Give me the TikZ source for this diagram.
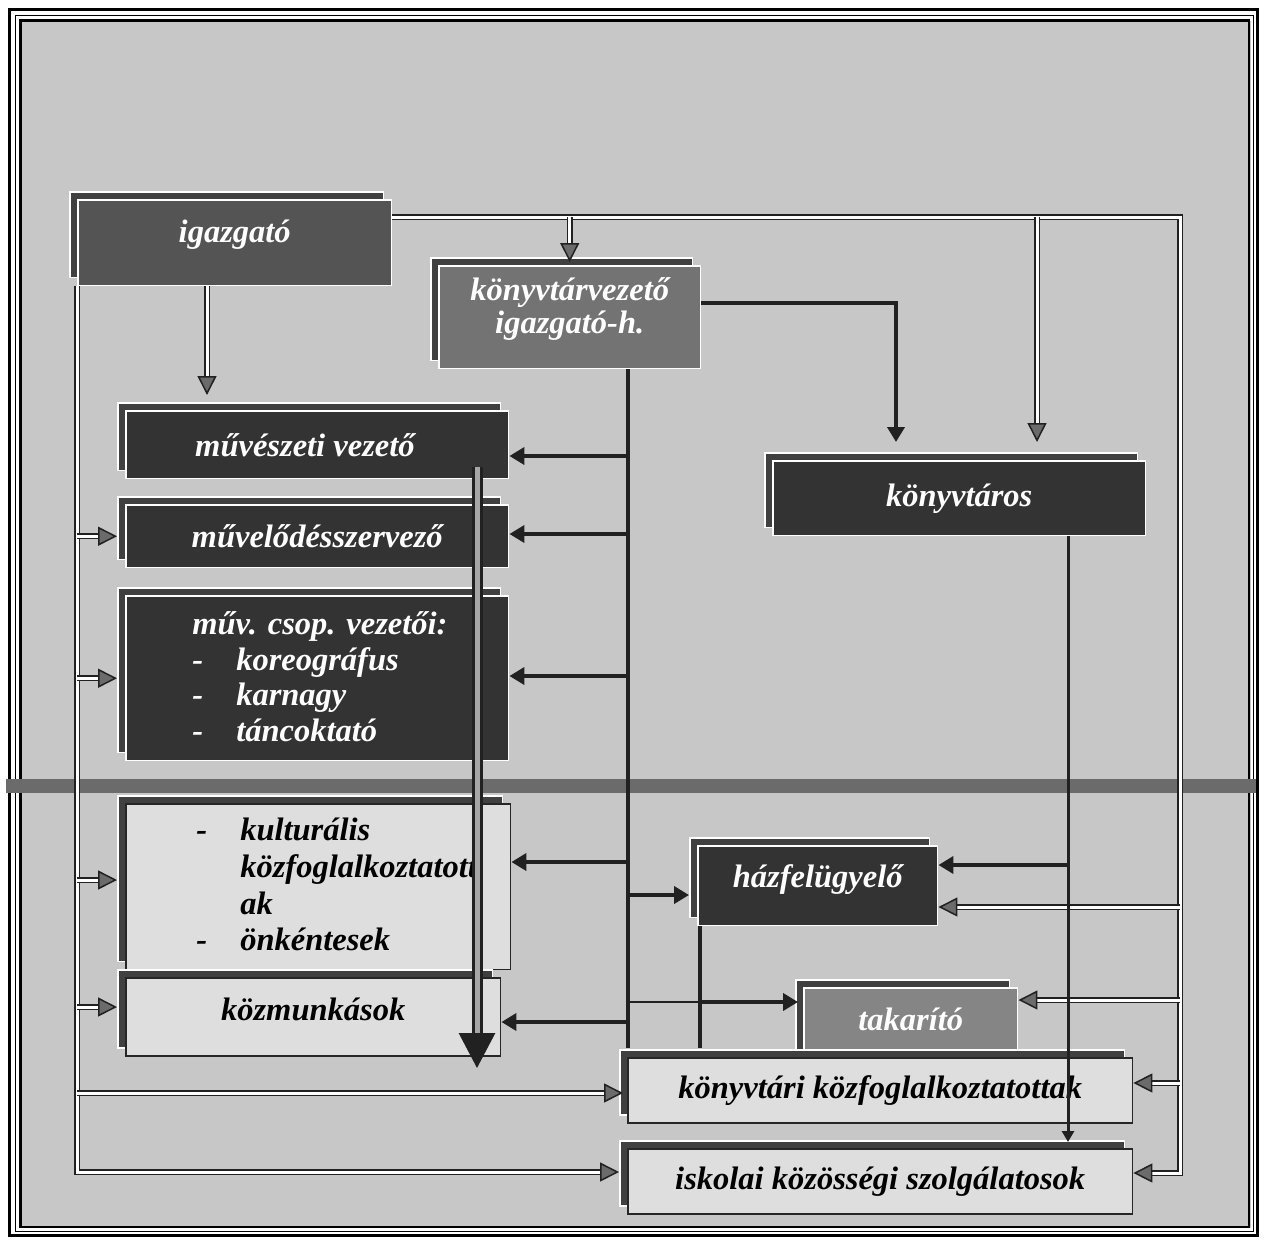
\documentclass[tikz,border=0pt]{standalone}
\usepackage{fontspec}
\setmainfont{Liberation Serif}
\usetikzlibrary{arrows.meta,shadows,calc}
\definecolor{bg}{gray}{0.78}
\definecolor{dk}{gray}{0.13}
\definecolor{tipg}{gray}{0.42}
\definecolor{boxA}{gray}{0.33}
\definecolor{boxB}{gray}{0.45}
\definecolor{boxC}{gray}{0.2}
\definecolor{boxD}{gray}{0.52}
\definecolor{boxL}{gray}{0.87}
\definecolor{shd}{gray}{0.25}
\definecolor{barc}{gray}{0.42}
\tikzset{
  box/.style={rectangle, anchor=north west, inner sep=0pt, line width=0.03cm, align=center,
    general shadow={shadow xshift=-0.16cm, shadow yshift=0.16cm, fill=shd, draw=white, line width=0.03cm}},
  dbox/.style={box, fill=boxC, draw=white, text=white},
  lbox/.style={box, fill=boxL, draw=black!85, text=black},
  dbl/.style={draw=dk, line width=0.03cm, double=white, double distance=0.06cm},
  dtip/.style={-{Triangle[length=0.38cm,width=0.38cm,fill=tipg]}},
  sgl/.style={draw=dk, line width=0.08cm},
  stip/.style={-{Triangle[length=0.3cm,width=0.34cm,fill=dk]}},
  big/.style={draw=dk, line width=0.06cm, double=black!35, double distance=0.1cm,
    -{Triangle[length=0.7cm,width=0.72cm,fill=dk]}},
  txt/.style={inner sep=0pt, anchor=north west, align=left}
}
\begin{document}
\begin{tikzpicture}[x=0.02cm,y=-0.02cm, font=\fontsize{18.5}{20.4}\selectfont\bfseries\itshape]
\useasboundingbox (0,0) rectangle (1264,1241);
\fill[white] (0,0) rectangle (1264,1241);
\fill[bg] (21,21) rectangle (1251,1228);
\draw[line width=0.07cm] (9.5,9.5) rectangle (1257.5,1235.5);
\draw[line width=0.02cm] (15,15) rectangle (1253,1231);
\draw[line width=0.05cm] (20.5,20.5) rectangle (1249,1227);

% boxes
\node[box, fill=boxA, draw=white, text=white, minimum width=6.28cm, minimum height=1.72cm, text depth=0.46cm] (igaz) at (77,199) {igazgató};
\node[box, fill=boxB, draw=white, text=white, minimum width=5.24cm, minimum height=2.06cm, text depth=0.46cm, font=\fontsize{18.5}{19}\selectfont\bfseries\itshape] (kvez) at (438,265) {könyvtárvezető\\igazgató-h.};
\node[dbox, minimum width=7.46cm, minimum height=1.5cm] (konyvtaros) at (772,460) {könyvtáros};
\node[dbox, minimum width=7.66cm, minimum height=1.36cm] (muv) at (125,410) {művészeti vezető\hspace*{14pt}};
\node[dbox, minimum width=7.66cm, minimum height=1.26cm] (muvel) at (125,504) {művelődésszervező};
\node[dbox, minimum width=7.66cm, minimum height=3.3cm] (csop) at (125,595) {};
\node[txt, text=white] (csopt) at (192,611) {műv. csop. vezetői:\\\makebox[25pt][l]{-}koreográfus\\\makebox[25pt][l]{-}karnagy\\\makebox[25pt][l]{-}táncoktató};
\node[lbox, minimum width=7.7cm, minimum height=3.32cm] (kult) at (125,803) {};
\node[txt, text=black, font=\fontsize{18.5}{20.8}\selectfont\bfseries\itshape] (kultt) at (196,818) {\makebox[25pt][l]{-}kulturális\\\hspace*{25pt}közfoglalkoztatott\\\hspace*{25pt}ak\\\makebox[25pt][l]{-}önkéntesek};
\node[lbox, minimum width=7.5cm, minimum height=1.56cm, text depth=0.32cm] (kozm) at (125,977) {közmunkások};
\node[dbox, minimum width=4.8cm, minimum height=1.6cm, text depth=0.38cm] (haz) at (697,845) {házfelügyelő};
\node[box, fill=boxD, draw=white, text=white, minimum width=4.28cm, minimum height=1.4cm, text depth=0.16cm] (tak) at (803,987) {takarító};
\node[lbox, minimum width=10.1cm, minimum height=1.3cm] (kk) at (627,1057) {könyvtári közfoglalkoztatottak};
\node[lbox, minimum width=10.1cm, minimum height=1.3cm] (isk) at (627,1148) {iskolai közösségi szolgálatosok};

% separator bar
\fill[barc] (6,779) rectangle (1256,793);

% helper coordinates
\coordinate (tr) at (1180,217);
\coordinate (br) at (1180,1173);
\coordinate (lb) at (77,1172);
\coordinate (vx) at (628,1048);
\coordinate (hx) at (700,1048);
\coordinate (kx) at (1037,217);
\coordinate (gx) at (207,0);
\coordinate (cx) at (1068,0);
\coordinate (kvA) at (896,303);
\coordinate (yKult) at (0,880);
\coordinate (yKozm) at (0,1007);
\coordinate (yKk) at (0,1093);
\coordinate (rHaz) at (0,907);
\coordinate (rTak) at (0,1000);
\coordinate (rKk) at (0,1083);
\coordinate (a1) at (0,456);
\coordinate (a2) at (0,534);
\coordinate (a3) at (0,676);
\coordinate (a4) at (0,862);
\coordinate (a5) at (0,1022);
\coordinate (hzB) at (0,895);
\coordinate (hzC) at (0,865);
\coordinate (tkA) at (0,1002);
\coordinate (bA) at (477,467);
\coordinate (bB) at (477,1068);

% double connectors
\draw[dbl,dtip] (igaz.east |- tr) -- (tr) -- (br) -- (isk.east |- br);
\draw[dbl,dtip,shorten >=0.06cm] (kvez.north |- tr) -- (kvez.north);
\draw[dbl,dtip,shorten >=0.36cm] (kx) -- (kx |- konyvtaros.north);
\draw[dbl,dtip,shorten >=0.3cm] (igaz.south -| gx) -- (muv.north -| gx);
\draw[dbl,dtip,shorten >=0.16cm] (igaz.south west) -- (lb) -- (isk.west |- lb);
\draw[dbl,dtip,shorten >=0.16cm] (lb |- muvel.west) -- (muvel.west);
\draw[dbl,dtip,shorten >=0.16cm] (lb |- csop.west) -- (csop.west);
\draw[dbl,dtip,shorten >=0.16cm] (lb |- yKult) -- (kult.west |- yKult);
\draw[dbl,dtip,shorten >=0.16cm] (lb |- yKozm) -- (kozm.west |- yKozm);
\draw[dbl,dtip,shorten >=0.08cm] (lb |- yKk) -- (kk.west |- yKk);
\draw[dbl,dtip] (tr |- rHaz) -- (haz.east |- rHaz);
\draw[dbl,dtip] (tr |- rTak) -- (tak.east |- rTak);
\draw[dbl,dtip] (tr |- rKk) -- (kk.east |- rKk);

% single connectors
\draw[sgl,stip,shorten >=0.36cm] (kvez.east |- kvA) -- (kvA) -- (kvA |- konyvtaros.north);
\draw[sgl] (kvez.south -| vx) -- (vx);
\draw[sgl,stip] (vx |- a1) -- (muv.east |- a1);
\draw[sgl,stip] (vx |- a2) -- (muvel.east |- a2);
\draw[sgl,stip] (vx |- a3) -- (csop.east |- a3);
\draw[sgl,stip] (vx |- a4) -- (kult.east |- a4);
\draw[sgl,stip] (vx |- a5) -- (kozm.east |- a5);
\draw[sgl,stip,shorten >=0.16cm] (vx |- hzB) -- (haz.west |- hzB);
\draw[draw=dk, line width=0.05cm] (vx |- tkA) -- (hx |- tkA);
\draw[sgl] (haz.south -| hx) -- (hx);
\draw[sgl,stip,shorten >=0.1cm] (hx |- tkA) -- (tak.west |- tkA);
\draw[draw=dk, line width=0.06cm, -{Triangle[length=0.22cm,width=0.24cm,fill=dk]}, shorten >=0.12cm] (konyvtaros.south -| cx) -- (isk.north -| cx);
\draw[sgl,stip] (cx |- hzC) -- (haz.east |- hzC);

% big arrow
\draw[big] (bA) -- (bB);
\end{tikzpicture}
\end{document}
